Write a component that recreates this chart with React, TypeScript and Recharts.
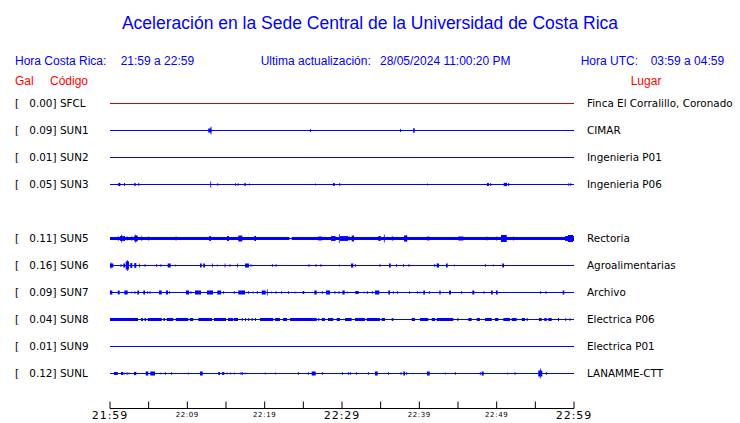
import React from 'react';
import { ComposedChart, Line, XAxis, YAxis, ReferenceArea } from 'recharts';

// [start minute, end minute, half amplitude] ; minute 0 = 21:59, 1 unit = 1/10 of the row gap
type Burst = [number, number, number];

const STATIONS = ['SFCL', 'SUN1', 'SUN2', 'SUN3', 'SUN5', 'SUN6', 'SUN7', 'SUN8', 'SUN9', 'SUNL'];
const ROWS = [0, 1, 2, 3, 5, 6, 7, 8, 9, 10];
const PEAKS = ['0.00', '0.09', '0.01', '0.05', '0.11', '0.16', '0.09', '0.04', '0.01', '0.12'];
const PLACES = [
	'Finca El Corralillo, Coronado',
	'CIMAR',
	'Ingenieria P01',
	'Ingenieria P06',
	'Rectoria',
	'Agroalimentarias',
	'Archivo',
	'Electrica P06',
	'Electrica P01',
	'LANAMME-CTT',
];
const TRACE_COLORS = ['#dd0000', '#0000ff', '#0000ff', '#0000ff', '#0000ff', '#0000ff', '#0000ff', '#0000ff', '#0000ff', '#0000ff'];

const MINUTE_TICKS = [0, 5, 10, 15, 20, 25, 30, 35, 40, 45, 50, 55, 60];
const LABEL_MINUTES = [0, 10, 20, 30, 40, 50, 60];
const LABELS = ['21:59', '22:09', '22:19', '22:29', '22:39', '22:49', '22:59'];
const BIG_LABELS = ['21:59', '22:29', '22:59'];

const SFCL: Burst[] = [];
const SUN1: Burst[] = [
	[12.7, 13.1, 0.75], [13.0, 13.12, 1.35], [25.85, 25.97, 0.6], [37.5, 37.62, 0.6], [39.2, 39.4, 0.85],
];
const SUN2: Burst[] = [];
const SUN3: Burst[] = [
	[1.07, 1.33, 0.6], [1.81, 1.93, 0.55], [3.14, 3.32, 0.6], [3.66, 3.78, 0.55], [12.97, 13.08, 1.1],
	[13.87, 13.99, 0.45], [16.16, 16.28, 0.45], [16.51, 16.63, 0.45], [17.37, 17.55, 0.6], [18.0, 18.1, 0.35],
	[26.51, 26.61, 0.35], [28.84, 29.06, 0.6], [29.65, 29.77, 0.55], [40.99, 41.09, 0.35], [48.75, 49.0, 0.6],
	[49.17, 49.29, 0.55], [50.91, 51.34, 0.6], [51.5, 51.63, 0.6], [59.26, 59.38, 0.5], [59.52, 59.64, 0.5],
];
const SUN5: Burst[] = [
	[0, 23.2, 0.55], [23.5, 60, 0.55],
	[1.0, 1.16, 0.75], [1.29, 1.94, 0.9], [1.46, 1.56, 1.5], [2.15, 2.27, 0.75], [2.72, 2.88, 0.75],
	[3.14, 3.58, 1.1], [3.28, 3.38, 1.5], [4.01, 4.18, 0.75], [4.95, 5.07, 0.75], [8.48, 8.6, 0.75],
	[12.84, 13.06, 0.9], [15.13, 15.39, 0.9], [16.59, 17.11, 1.1], [18.66, 18.88, 0.9], [26.94, 27.37, 0.75],
	[28.58, 29.18, 0.9], [29.6, 29.7, 1.7], [29.74, 30.81, 0.9], [30.9, 31.0, 0.75], [31.25, 31.55, 1.1],
	[34.69, 35.0, 0.9], [35.42, 35.52, 1.5], [36.43, 36.64, 0.75], [38.02, 38.44, 1.1], [38.26, 38.36, 1.3],
	[41.03, 41.29, 0.75], [45.04, 45.69, 0.75], [48.7, 48.8, 0.75], [49.95, 50.05, 0.75], [50.56, 51.3, 1.3],
	[52.1, 52.2, 0.75], [58.84, 60, 0.9], [59.22, 59.87, 1.3],
];
const SUN6: Burst[] = [
	[0, 0.43, 0.75], [0.08, 0.18, 1.1], [1.37, 1.47, 0.55], [1.72, 1.94, 0.75], [2.03, 2.46, 1.5],
	[2.19, 2.29, 2.0], [2.62, 2.88, 0.9], [3.14, 3.4, 0.9], [3.79, 3.89, 0.75], [4.48, 4.58, 0.55],
	[5.99, 6.09, 0.55], [6.54, 6.64, 0.55], [7.46, 7.85, 0.75], [8.39, 8.49, 0.4], [11.64, 11.86, 0.75],
	[12.06, 12.28, 0.75], [13.18, 13.28, 0.75], [13.82, 13.92, 0.4], [14.82, 14.92, 0.75], [15.47, 15.57, 0.55],
	[16.46, 16.56, 0.75], [17.46, 17.97, 0.75], [18.14, 18.24, 0.4], [18.31, 18.41, 0.4], [20.94, 21.04, 0.55],
	[21.42, 21.52, 0.55], [25.68, 25.78, 0.55], [26.59, 26.69, 0.55], [27.23, 27.33, 0.55], [29.6, 29.7, 0.4],
	[31.16, 31.46, 0.75], [31.67, 31.77, 0.55], [34.86, 34.96, 0.55], [36.08, 36.3, 0.75], [37.02, 37.12, 0.55],
	[37.88, 37.98, 0.55], [38.61, 38.71, 0.55], [41.94, 42.04, 0.55], [42.24, 42.54, 0.75], [43.45, 43.67, 0.75],
	[44.47, 44.57, 0.4], [48.48, 48.58, 0.55], [49.51, 49.61, 0.4], [50.73, 50.95, 0.75],
];
const SUN7: Burst[] = [
	[0, 0.3, 0.75], [1.0, 1.25, 0.75], [1.85, 2.29, 0.75], [2.76, 2.86, 0.4], [3.18, 3.28, 0.55],
	[3.53, 3.75, 0.75], [4.31, 4.53, 0.75], [4.82, 4.92, 0.55], [5.12, 5.22, 0.55], [6.34, 6.69, 0.75],
	[7.24, 7.5, 0.75], [7.67, 7.77, 0.55], [9.83, 10.22, 0.75], [10.42, 10.52, 0.55], [10.99, 11.77, 0.75],
	[12.54, 13.32, 0.75], [13.87, 14.35, 0.75], [14.65, 14.75, 0.55], [16.02, 16.12, 0.55], [16.59, 17.46, 0.75],
	[17.89, 17.99, 0.55], [18.48, 18.58, 0.4], [19.0, 19.1, 0.55], [19.62, 20.13, 0.75], [20.29, 20.39, 1.1],
	[20.86, 20.96, 0.4], [21.42, 21.52, 0.55], [22.15, 22.25, 0.55], [23.01, 23.11, 0.55], [23.87, 23.97, 0.4],
	[24.92, 25.12, 0.55], [26.42, 26.73, 0.75], [27.4, 27.5, 0.55], [27.93, 28.45, 0.75], [29.04, 29.14, 0.55],
	[29.56, 29.66, 0.55], [30.05, 30.35, 0.75], [30.64, 30.74, 0.4], [31.72, 32.16, 0.55], [32.79, 32.89, 0.4],
	[33.22, 33.32, 0.55], [33.87, 33.97, 0.55], [34.27, 34.82, 0.75], [35.99, 36.21, 0.75], [36.58, 36.68, 0.55],
	[37.1, 37.2, 0.55], [38.7, 38.8, 0.55], [39.74, 39.84, 0.55], [40.04, 40.14, 0.4], [40.51, 40.73, 0.75],
	[41.24, 41.34, 0.55], [42.58, 42.76, 0.75], [43.84, 44.09, 0.75], [45.43, 45.53, 0.55], [46.85, 47.11, 0.75],
	[48.31, 48.41, 0.55], [49.27, 49.49, 0.75], [49.91, 50.13, 0.75], [55.64, 55.74, 0.55], [56.33, 56.43, 0.55],
	[58.54, 58.75, 0.75],
];
const SUN8: Burst[] = [
	[0, 3.62, 0.55], [4.01, 4.27, 0.55], [4.46, 4.66, 0.55], [4.87, 6.69, 0.55], [6.92, 7.11, 0.55],
	[7.33, 8.19, 0.55], [8.5, 10.12, 0.55], [10.34, 10.77, 0.55], [11.42, 13.19, 0.55], [13.45, 15.0, 0.55],
	[15.26, 15.94, 0.55], [16.03, 16.55, 0.55], [17.03, 17.16, 0.55], [17.46, 17.59, 0.55], [17.88, 18.01, 0.55],
	[18.32, 18.45, 0.55], [18.75, 18.88, 0.55], [19.4, 21.12, 0.55], [21.34, 21.98, 0.55], [22.37, 22.89, 0.55],
	[23.28, 26.73, 0.55], [26.94, 27.06, 0.55], [27.37, 27.8, 0.55], [28.19, 28.87, 0.55], [29.31, 29.74, 0.55],
	[30.39, 31.25, 0.55], [31.68, 32.97, 0.55], [33.19, 34.91, 0.55], [35.13, 35.56, 0.55], [36.43, 36.64, 0.55],
	[39.01, 39.44, 0.55], [40.09, 41.16, 0.55], [41.6, 42.03, 0.55], [42.24, 44.39, 0.55], [44.91, 45.04, 0.55],
	[46.33, 46.77, 0.55], [47.42, 47.84, 0.55], [48.49, 49.36, 0.55], [49.78, 50.21, 0.55], [50.86, 51.72, 0.55],
	[51.94, 52.59, 0.55], [53.24, 53.66, 0.55], [53.88, 54.01, 0.55], [55.47, 55.82, 0.55], [56.16, 56.47, 0.55],
	[56.68, 57.12, 0.55], [57.93, 58.06, 0.55], [58.88, 58.98, 0.55], [59.43, 59.53, 0.55],
];
const SUN9: Burst[] = [];
const SUNL: Burst[] = [
	[0.52, 1.0, 0.55], [1.42, 1.72, 0.55], [1.8, 1.9, 0.4], [2.15, 2.25, 0.55], [2.41, 2.51, 0.4],
	[3.1, 3.4, 0.6], [4.62, 4.95, 0.75], [5.21, 5.82, 0.75], [6.54, 6.64, 0.4], [7.1, 7.2, 0.55],
	[7.93, 8.03, 0.55], [10.07, 10.17, 0.4], [11.64, 11.99, 0.75], [14.0, 14.22, 0.55], [14.52, 14.78, 0.55],
	[15.08, 15.18, 0.4], [15.56, 15.66, 0.4], [16.02, 16.12, 0.4], [16.89, 16.99, 0.55], [17.06, 17.16, 0.55],
	[17.41, 17.51, 0.4], [20.03, 20.13, 0.4], [21.32, 21.42, 0.4], [24.3, 24.4, 0.55], [25.59, 25.69, 0.55],
	[26.08, 26.6, 0.75], [27.4, 27.5, 0.55], [29.99, 30.09, 0.55], [30.76, 30.86, 0.55], [31.02, 31.12, 0.55],
	[31.8, 31.9, 0.55], [33.35, 33.45, 0.55], [34.27, 34.62, 0.75], [35.94, 36.04, 0.55], [37.58, 37.68, 0.55],
	[37.93, 38.15, 0.75], [38.32, 38.42, 0.55], [40.99, 41.34, 0.75], [43.31, 43.41, 0.4], [44.6, 44.7, 0.55],
	[47.83, 47.93, 0.55], [48.06, 48.32, 0.75], [51.38, 51.48, 0.4], [52.32, 52.42, 0.55], [55.38, 55.9, 1.1],
	[55.59, 55.69, 1.85], [56.37, 56.47, 0.55],
];
const BURSTS = [SFCL, SUN1, SUN2, SUN3, SUN5, SUN6, SUN7, SUN8, SUN9, SUNL];

const ROW_GAP = 10;
const BASES = ROWS.map((r) => -r * ROW_GAP);

// two points per trace: the flat baseline from 21:59 to 22:59
const baseline = [0, 60].map((t) => {
	const row: Record<string, number> = { t };
	STATIONS.forEach((s, i) => (row[s] = BASES[i]));
	return row;
});

const blue = '#0000ff';
const red = '#ff0000';

function TimeTick(props: any) {
	const { x, y, payload } = props;
	const idx = LABEL_MINUTES.indexOf(payload.value);
	const label = idx >= 0 ? LABELS[idx] : '';
	const big = BIG_LABELS.includes(label);
	return (
		<g>
			<line x1={x} x2={x} y1={y - 7} y2={y} stroke='#000' />
			{label && (
				<text
					x={x}
					y={y + (big ? 10.8 : 8.8)}
					textAnchor='middle'
					fontFamily='DejaVu Sans'
					fontSize={big ? 11 : 7}
					letterSpacing={big ? 1 : 0.6}
					fill='#000'>
					{label}
				</text>
			)}
		</g>
	);
}

function StationTick(props: any) {
	const { y, payload } = props;
	const i = BASES.indexOf(payload.value);
	if (i < 0) return <g />;
	return (
		<g fontFamily='DejaVu Sans' fontSize={10.4} fill='#000'>
			<text x={15} y={y + 3.7}>[</text>
			<text x={56.5} y={y + 3.7} textAnchor='end'>{PEAKS[i]}]</text>
			<text x={60} y={y + 3.7}>{STATIONS[i]}</text>
		</g>
	);
}

function PlaceTick(props: any) {
	const { y, payload } = props;
	const i = BASES.indexOf(payload.value);
	if (i < 0) return <g />;
	return (
		<text x={587} y={y + 3.7} fontFamily='DejaVu Sans' fontSize={10.4} fill='#000'>
			{PLACES[i]}
		</text>
	);
}

const txt = (left: number, top: number, color: string, s: string) => (
	<div style={{ position: 'absolute', left, top, color, fontSize: 12, lineHeight: '14px', whiteSpace: 'pre' }}>{s}</div>
);

export default function App() {
	return (
		<div style={{ position: 'absolute', left: 0, top: 0, width: 740, height: 423, background: '#fff', fontFamily: 'Liberation Sans, Arial, sans-serif' }}>
			<div style={{ position: 'absolute', left: 0, top: 12, width: 740, textAlign: 'center', color: blue, fontSize: 17.5, lineHeight: '22px' }}>
				Aceleración en la Sede Central de la Universidad de Costa Rica
			</div>
			{txt(15, 54, blue, 'Hora Costa Rica:')}
			{txt(120.7, 54, blue, '21:59 a 22:59')}
			{txt(260.7, 54, blue, 'Ultima actualización:')}
			{txt(380, 54, blue, '28/05/2024 11:00:20 PM')}
			{txt(580.7, 54, blue, 'Hora UTC:')}
			{txt(650.7, 54, blue, '03:59 a 04:59')}
			{txt(15, 74, red, 'Gal')}
			{txt(50, 74, red, 'Código')}
			{txt(630.7, 74, red, 'Lugar')}
			<div style={{ position: 'absolute', left: 0, top: 0 }}>
				<ComposedChart
					width={740}
					height={423}
					data={baseline}
					margin={{ top: 90, right: 0, left: 0, bottom: 0.5 }}>
					<XAxis
						type='number'
						dataKey='t'
						domain={[0, 60]}
						allowDataOverflow
						ticks={MINUTE_TICKS}
						interval={0}
						height={14}
						tickSize={0}
						tickMargin={0}
						tickLine={false}
						axisLine={{ stroke: '#000' }}
						tick={TimeTick}
					/>
					<YAxis
						yAxisId='left'
						type='number'
						domain={[-112.963, 5]}
						allowDataOverflow
						ticks={BASES}
						interval={0}
						width={110}
						axisLine={false}
						tickLine={false}
						tick={StationTick}
					/>
					<YAxis
						yAxisId='right'
						orientation='right'
						type='number'
						domain={[-112.963, 5]}
						allowDataOverflow
						ticks={BASES}
						interval={0}
						width={166}
						axisLine={false}
						tickLine={false}
						tick={PlaceTick}
					/>
					{STATIONS.map((s, i) => (
						<Line
							key={s}
							yAxisId='left'
							type='linear'
							dataKey={s}
							stroke={TRACE_COLORS[i]}
							strokeWidth={1}
							dot={false}
							activeDot={false}
							isAnimationActive={false}
						/>
					))}
					{BURSTS.flatMap((list, i) =>
						list.map(([x1, x2, a], k) => (
							<ReferenceArea
								key={`${STATIONS[i]}-${k}`}
								yAxisId='left'
								x1={x1}
								x2={x2}
								y1={BASES[i] - a}
								y2={BASES[i] + a}
								fill={TRACE_COLORS[i]}
								fillOpacity={1}
								stroke='none'
							/>
						)),
					)}
				</ComposedChart>
			</div>
		</div>
	);
}
